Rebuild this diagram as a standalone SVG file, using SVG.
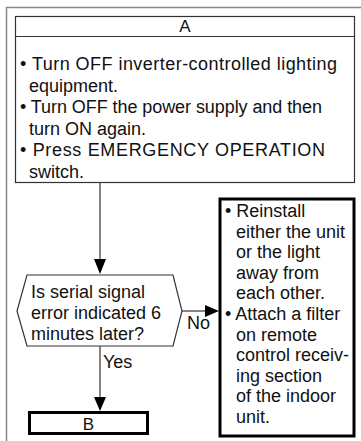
<svg xmlns="http://www.w3.org/2000/svg" width="361" height="441" viewBox="0 0 361 441">
<style>
text{font-family:"Liberation Sans",Arial,sans-serif;font-size:18px;fill:#111}
.thin{fill:#fff;stroke:#333;stroke-width:1.2}
.thick{fill:#fff;stroke:#000;stroke-width:3}
.con{stroke:#333;stroke-width:1.2;fill:none}
.head{fill:#000;stroke:none}
</style>
<rect x="6.5" y="7.5" width="370" height="450" fill="#fff" stroke="#888" stroke-width="1.5"/>
<g id="connectors">
<line class="con" x1="100" y1="183" x2="100" y2="260"/>
<polygon class="head" points="94,259 106,259 100,274"/>
<line class="con" x1="182" y1="311" x2="206" y2="311"/>
<polygon class="head" points="205,305 205,317 219,311"/>
<text x="187" y="329">No</text>
<line class="con" x1="100" y1="346" x2="100" y2="398"/>
<polygon class="head" points="94,397 106,397 100,411"/>
<text x="103" y="368">Yes</text>
</g>
<g id="nodeA">
<rect class="thin" x="15.5" y="16.5" width="339" height="166"/>
<line class="con" x1="15.5" y1="36.5" x2="354.5" y2="36.5"/>
<text x="185" y="32" text-anchor="middle" style="font-size:17px">A</text>
<text x="20" y="70" textLength="317" lengthAdjust="spacing">• Turn OFF inverter-controlled lighting</text>
<text x="29" y="91.5">equipment.</text>
<text x="20" y="113" textLength="302" lengthAdjust="spacing">• Turn OFF the power supply and then</text>
<text x="29" y="134.5">turn ON again.</text>
<text x="20" y="156" textLength="305" lengthAdjust="spacing">• Press EMERGENCY OPERATION</text>
<text x="29" y="177.5">switch.</text>
</g>
<g id="decision">
<polygon class="thin" points="27,275 173,275 182,311 173,346 27,346 17,311"/>
<text x="31" y="298">Is serial signal</text>
<text x="31" y="319">error indicated 6</text>
<text x="31" y="340">minutes later?</text>
</g>
<g id="remedy">
<rect class="thick" x="220" y="199" width="134" height="237"/>
<text x="225" y="217">• Reinstall</text>
<text x="236" y="237.6">either the unit</text>
<text x="236" y="258.2">or the light</text>
<text x="236" y="278.8">away from</text>
<text x="236" y="299.4">each other.</text>
<text x="225" y="320">• Attach a filter</text>
<text x="236" y="340.6">on remote</text>
<text x="236" y="361.2">control receiv-</text>
<text x="236" y="381.8">ing section</text>
<text x="236" y="402.4">of the indoor</text>
<text x="236" y="423">unit.</text>
</g>
<g id="nodeB">
<rect class="thick" x="29.5" y="412.5" width="118" height="21"/>
<text x="88.5" y="429.5" text-anchor="middle" style="font-size:17px">B</text>
</g>
</svg>
